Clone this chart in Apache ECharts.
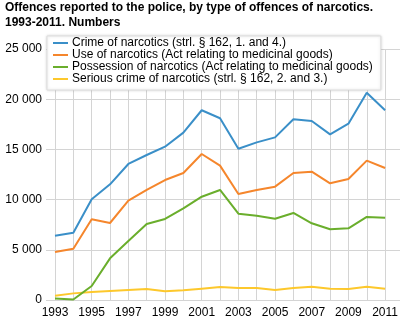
<!DOCTYPE html>
<html><head><meta charset="utf-8">
<script src="https://cdn.jsdelivr.net/npm/echarts@6/dist/echarts.min.js"></script>
<style>html,body{margin:0;padding:0;background:#fff}#c{width:401px;height:321px}</style>
</head><body><div id="c"></div>
<script>
const years = ['1993','1994','1995','1996','1997','1998','1999','2000','2001','2002','2003','2004','2005','2006','2007','2008','2009','2010','2011'];
const crime = [6400,6700,10030,11520,13550,14440,15270,16670,18900,18100,15070,15700,16200,18000,17830,16500,17560,20650,18890];
const useN = [4780,5110,8040,7670,9890,10960,11950,12650,14540,13380,10560,10960,11290,12650,12780,11620,12050,13880,13150];
const possession = [150,50,1390,4150,5880,7570,8070,9130,10290,10960,8600,8400,8100,8670,7640,7040,7140,8270,8200];
const serious = [430,660,800,900,1000,1100,860,960,1130,1300,1200,1200,1000,1200,1330,1130,1100,1330,1130];
const seriesNames = ['Crime of narcotics (strl. § 162, 1. and 4.)','Use of narcotics (Act relating to medicinal goods)','Possession of narcotics (Act relating to medicinal goods)','Serious crime of narcotics (strl. § 162, 2. and 3.)'];
const colors = ['#3a8fc8','#f5862c','#6aae2c','#fdc82c'];
const yTicks = [0,5000,10000,15000,20000,25000];
const FONT = '"Liberation Sans", Arial, sans-serif';
const chart = echarts.init(document.getElementById('c'), null, {renderer:'canvas'});
const fmt = v => v === 0 ? '0' : String(v).replace(/\B(?=(\d{3})+(?!\d))/g, ' ');
const dataSets = [crime, useN, possession, serious];
chart.setOption({
  animation:false,
  textStyle:{fontFamily:FONT},
  title:{text:'Offences reported to the police, by type of offences of narcotics.\n1993-2011. Numbers',left:5,top:0,padding:0,
    textStyle:{fontFamily:FONT,fontSize:12,fontWeight:'bold',color:'#000',lineHeight:15}},
  legend:{orient:'vertical',left:47,top:36,padding:[1,8,5,6],itemGap:0,itemWidth:15,itemHeight:2,icon:'rect',
    backgroundColor:'#fff',borderColor:'#ddd',borderWidth:1,shadowBlur:3,shadowColor:'rgba(0,0,0,0.15)',
    textStyle:{fontFamily:FONT,fontSize:12,color:'#000',lineHeight:11.5,padding:[0,0,0,-1]},
    data:seriesNames},
  grid:[{left:55,right:12,top:49,bottom:21},{left:46,right:1,top:49,bottom:21}],
  xAxis:[{type:'category',gridIndex:0,data:years,boundaryGap:false,
    axisLine:{show:false},axisTick:{show:false},
    axisLabel:{interval:1,color:'#000',fontSize:12,fontFamily:FONT,margin:7},
    splitLine:{show:true,interval:0,lineStyle:{color:'#d4d4d4',width:1}}},
    {type:'value',gridIndex:1,show:false,min:0,max:1}],
  yAxis:[{type:'value',gridIndex:0,min:0,max:25000,interval:5000,
    axisLine:{show:false},axisTick:{show:false},splitLine:{show:false},
    axisLabel:{color:'#000',fontSize:12,fontFamily:FONT,margin:13,formatter:v=>yTicks.includes(v)?fmt(v):''}},
    {type:'value',gridIndex:1,min:0,max:25000,interval:5000,
    axisLine:{show:false},axisTick:{show:false},axisLabel:{show:false},
    splitLine:{show:true,lineStyle:{color:'#d4d4d4',width:1}}}],
  series: seriesNames.map((n,i)=>({name:n,type:'line',xAxisIndex:0,yAxisIndex:0,data:dataSets[i],
    showSymbol:false,symbol:'none',lineStyle:{color:colors[i],width:2},itemStyle:{color:colors[i]},z:10-i}))
});
</script></body></html>
